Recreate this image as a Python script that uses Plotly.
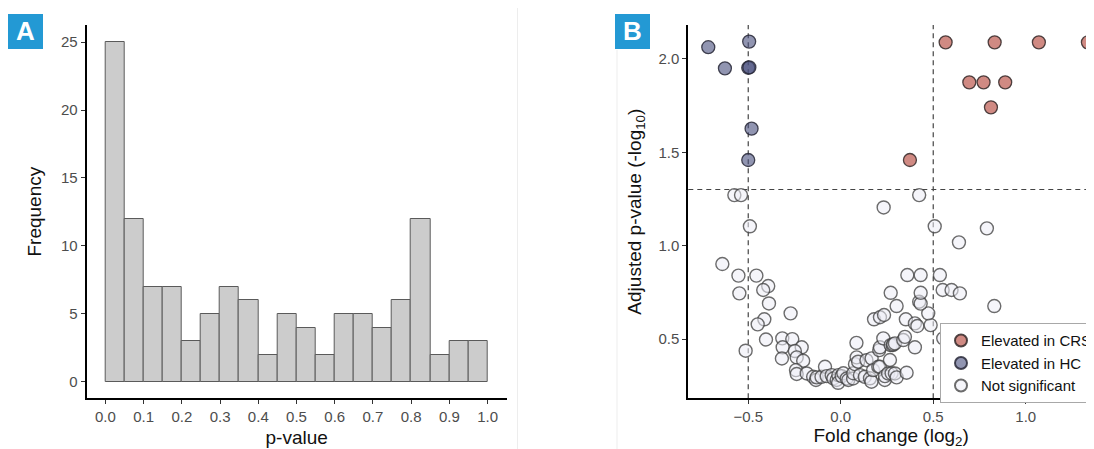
import plotly.graph_objects as go

# ---------------- Panel A data: p-value histogram ----------------
bin_starts = [0.00, 0.05, 0.10, 0.15, 0.20, 0.25, 0.30, 0.35, 0.40, 0.45,
              0.50, 0.55, 0.60, 0.65, 0.70, 0.75, 0.80, 0.85, 0.90, 0.95]
bin_counts = [25, 12, 7, 7, 3, 5, 7, 6, 2, 5, 4, 2, 5, 5, 4, 6, 12, 2, 3, 3]
bin_width = 0.05
hist_xticks = [0.0, 0.1, 0.2, 0.3, 0.4, 0.5, 0.6, 0.7, 0.8, 0.9, 1.0]
hist_yticks = [0, 5, 10, 15, 20, 25]

# ---------------- Panel B data: volcano plot ----------------
crs_fc = [0.567, 0.832, 1.071, 1.336, 0.695, 0.772, 0.889, 0.812, 0.374]
crs_p = [2.089, 2.089, 2.089, 2.089, 1.875, 1.875, 1.875, 1.741, 1.459]

hc_fc = [-0.716, -0.626, -0.495, -0.500, -0.494, -0.482, -0.500]
hc_p = [2.063, 1.950, 2.093, 1.953, 1.955, 1.627, 1.459]

ns_fc = [-0.575, -0.539, 0.424, 0.232, -0.491, 0.508, 0.790, 0.639,
         -0.640, -0.553, -0.456, -0.548, -0.392, -0.419, -0.388, -0.271, -0.413, -0.449, -0.404, -0.514,
         -0.316, -0.262, -0.314, -0.211, -0.248, -0.318, -0.238, -0.203, -0.242, -0.238, -0.184, -0.149,
         -0.134, -0.130, -0.104, -0.085, -0.076, -0.049, -0.040, -0.022, -0.013, -0.014, 0.005, 0.014,
         0.032, 0.041, 0.067, 0.068, 0.077, 0.086, 0.085, 0.094, 0.104, 0.130, 0.139, 0.158, 0.166,
         0.167, 0.175, 0.203, 0.211, 0.238, 0.239, 0.256, 0.275, 0.293, 0.302, 0.356,
         0.266, 0.208, 0.212, 0.230, 0.270, 0.281, 0.284, 0.293, 0.338, 0.347, 0.401,
         0.180, 0.212, 0.234, 0.352, 0.401, 0.414, 0.486, 0.473, 0.554,
         0.270, 0.302, 0.424, 0.432, 0.432, 0.360, 0.432, 0.536, 0.551, 0.599, 0.644, 0.830]
ns_p = [1.271, 1.271, 1.271, 1.205, 1.104, 1.104, 1.093, 1.018,
        0.902, 0.840, 0.840, 0.745, 0.784, 0.763, 0.691, 0.638, 0.606, 0.579, 0.498, 0.438,
        0.504, 0.500, 0.456, 0.456, 0.436, 0.396, 0.402, 0.384, 0.334, 0.313, 0.316, 0.298,
        0.281, 0.295, 0.298, 0.352, 0.302, 0.307, 0.289, 0.281, 0.307, 0.266, 0.302, 0.317,
        0.289, 0.281, 0.289, 0.317, 0.366, 0.402, 0.480, 0.379, 0.307, 0.298, 0.387, 0.290, 0.272,
        0.397, 0.334, 0.352, 0.352, 0.281, 0.302, 0.316, 0.317, 0.316, 0.295, 0.320,
        0.388, 0.441, 0.456, 0.504, 0.468, 0.468, 0.473, 0.477, 0.495, 0.512, 0.456,
        0.606, 0.617, 0.629, 0.606, 0.584, 0.570, 0.575, 0.638, 0.504,
        0.748, 0.677, 0.700, 0.690, 0.748, 0.843, 0.843, 0.843, 0.763, 0.763, 0.745, 0.677]

fc_cutoffs = [-0.5, 0.5]
p_cutoff = 1.301
volcano_xticks = [-0.5, 0.0, 0.5, 1.0]
volcano_yticks = [0.5, 1.0, 1.5, 2.0]

# The page body has an 8px margin, so the figure is drawn 8px in from the corner.
OFF = 8
VW, VH = 1094, 449
W, H = VW - OFF, VH - OFF
FONT = "Liberation Sans, Arial, Helvetica, sans-serif"
TICKFONT = dict(family=FONT, size=15, color="#4D4D4D")
TITLEFONT = dict(family=FONT, size=19, color="#111111")

fig = go.Figure()

# Histogram bars
fig.add_trace(go.Bar(
    x=bin_starts, y=bin_counts, width=bin_width, offset=0,
    marker=dict(color="#CCCCCC", line=dict(color="#5A5A5A", width=1)),
    xaxis="x", yaxis="y", showlegend=False, hoverinfo="x+y"))

# Volcano points
ms = 13
fig.add_trace(go.Scatter(
    x=crs_fc, y=crs_p, mode="markers", name="Elevated in CRS",
    marker=dict(size=ms, color="rgba(188,88,78,0.70)",
                line=dict(color="rgba(50,40,40,0.85)", width=1.3)),
    xaxis="x2", yaxis="y2"))
fig.add_trace(go.Scatter(
    x=hc_fc, y=hc_p, mode="markers", name="Elevated in HC",
    marker=dict(size=ms, color="rgba(72,78,125,0.60)",
                line=dict(color="rgba(40,40,55,0.85)", width=1.3)),
    xaxis="x2", yaxis="y2"))
fig.add_trace(go.Scatter(
    x=ns_fc, y=ns_p, mode="markers", name="Not significant",
    marker=dict(size=ms, color="rgba(236,236,246,0.55)",
                line=dict(color="rgba(60,60,60,0.75)", width=1.4)),
    xaxis="x2", yaxis="y2"))


def px(v):
    return (v - OFF) / W


def py(v):
    return 1 - (v - OFF) / H


ydom = [py(398.3), py(25)]

axis_common = dict(
    showline=True, linecolor="black", linewidth=2,
    ticks="outside", ticklen=4, tickwidth=1.3, tickcolor="#333333",
    tickfont=TICKFONT, showgrid=False, zeroline=False, mirror=False,
)

fig.update_layout(
    width=W, height=H,
    margin=dict(l=0, r=0, t=0, b=0, autoexpand=False),
    paper_bgcolor="white", plot_bgcolor="white",
    bargap=0,
    xaxis=dict(domain=[px(86.7), px(506.7)], range=[-0.049, 1.05],
               tickvals=hist_xticks, tickformat=".1f", anchor="y",
               title=dict(text="p-value", font=TITLEFONT, standoff=6),
               **axis_common),
    yaxis=dict(domain=ydom, range=[-1.2, 26.25], tickvals=hist_yticks, anchor="x",
               title=dict(text="Frequency", font=TITLEFONT, standoff=14),
               **axis_common),
    xaxis2=dict(domain=[px(688.3), 1.0], range=[-0.824, 1.369],
                tickvals=volcano_xticks, tickformat=".1f", anchor="y2",
                title=dict(text="Fold change (log<sub>2</sub>)", font=TITLEFONT, standoff=6),
                **axis_common),
    yaxis2=dict(domain=ydom, range=[0.183, 2.182], tickvals=volcano_yticks,
                tickformat=".1f", anchor="x2",
                title=dict(text="Adjusted p-value (-log<sub>10</sub>)", font=TITLEFONT, standoff=12),
                **axis_common),
    legend=dict(x=px(940), y=py(323.3), xanchor="left", yanchor="top",
                bgcolor="white", bordercolor="#A8A8A8", borderwidth=1,
                font=dict(family=FONT, size=15, color="#111111"),
                tracegroupgap=0, itemsizing="constant"),
)

shapes = []
for c in fc_cutoffs:
    shapes.append(dict(type="line", xref="x2", yref="paper", x0=c, x1=c,
                       y0=ydom[0], y1=ydom[1],
                       line=dict(color="#444444", width=1.2, dash="5px,4px"), layer="below"))
shapes.append(dict(type="line", xref="paper", yref="y2", x0=px(688.3), x1=1.0,
                   y0=p_cutoff, y1=p_cutoff,
                   line=dict(color="#444444", width=1.2, dash="5px,4px"), layer="below"))
# faint panel borders
shapes.append(dict(type="line", xref="paper", yref="paper", x0=px(517.5), x1=px(517.5),
                   y0=0, y1=1, line=dict(color="#EDEDED", width=1)))
shapes.append(dict(type="line", xref="paper", yref="paper", x0=px(617), x1=px(617),
                   y0=0, y1=py(50), line=dict(color="#EDEDED", width=1)))
# panel label boxes
for (x0, y0) in [(8, 14), (615, 14)]:
    shapes.append(dict(type="rect", xref="paper", yref="paper",
                       x0=px(x0), x1=px(x0 + 35), y0=py(y0 + 35), y1=py(y0),
                       fillcolor="#2399D4", line=dict(width=0)))
fig.update_layout(shapes=shapes)

for label, x0 in [("A", 8), ("B", 615)]:
    fig.add_annotation(text="<b>%s</b>" % label, xref="paper", yref="paper",
                       x=px(x0 + 17.5), y=py(14 + 17.5), xanchor="center", yanchor="middle",
                       showarrow=False, font=dict(family=FONT, size=26, color="white"))

fig.write_html("out.html")
